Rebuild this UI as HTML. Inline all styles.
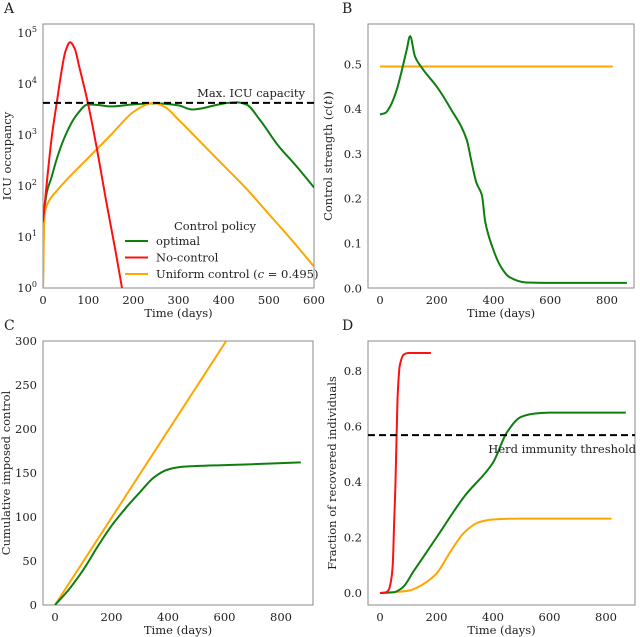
<!DOCTYPE html>
<html><head><meta charset="utf-8"><style>
body{margin:0;background:#fff;}
svg{display:block;font-family:"DejaVu Serif","Liberation Serif",serif;}
</style></head><body>
<svg id="fig" width="640" height="637" viewBox="0 0 640 637" xmlns="http://www.w3.org/2000/svg"></svg>
<script>
// Panel A data (log10 ICU occupancy)
const aRedT=[0,10,20,30,40,50,60,70,80,100,120,140,160,175];
const aRedV=[1.3,2.2,3.0,3.6,4.2,4.65,4.82,4.7,4.35,3.6,2.7,1.7,0.75,0];
const aGreenT=[0,2,20,50,75,100,120,150,200,250,300,330,350,380,410,430,450,480,520,560,600];
const aGreenV=[0,1.4,2.2,3.0,3.4,3.6,3.59,3.56,3.6,3.62,3.58,3.5,3.52,3.58,3.63,3.64,3.6,3.3,2.8,2.4,1.97];
const aOrangeT=[0,3,10,30,50,100,150,200,230,245,270,300,350,400,450,500,550,600];
const aOrangeV=[0,1.4,1.65,1.9,2.1,2.55,3.0,3.45,3.6,3.63,3.55,3.3,2.85,2.4,1.95,1.45,0.95,0.42];
const aCapacity=3.63;
const aXTicks=[0,100,200,300,400,500,600];
const aYTicks=[0,1,2,3,4,5];
// Panel B
const bGreenT=[0,20,35,59,82,95,106,123,150,200,250,306,320,340,359,371,396,426,456,515,600,700,870];
const bGreenV=[0.388,0.392,0.405,0.443,0.5,0.535,0.563,0.518,0.49,0.45,0.40,0.331,0.29,0.235,0.208,0.148,0.092,0.048,0.025,0.013,0.012,0.012,0.012];
const bOrangeT=[0,820];
const bOrangeV=[0.495,0.495];
const bXTicks=[0,200,400,600,800];
const bYTicks=[0,0.1,0.2,0.3,0.4,0.5];
// Panel C
const cOrangeT=[0,606];
const cOrangeV=[0,300];
const cGreenT=[0,50,100,150,200,250,300,350,400,450,500,600,700,870];
const cGreenV=[0,18,40,66,90,110,128,145,154,157,158,159,160,162];
const cXTicks=[0,200,400,600,800];
const cYTicks=[0,50,100,150,200,250,300];
// Panel D
const dRedT=[0,20,30,40,45,50,55,62,70,85,100,180];
const dRedV=[0,0.002,0.01,0.05,0.1,0.25,0.4,0.7,0.82,0.86,0.865,0.865];
const dGreenT=[0,50,80,120,200,300,400,450,500,550,600,870];
const dGreenV=[0,0.003,0.02,0.08,0.2,0.35,0.47,0.58,0.635,0.647,0.65,0.65];
const dOrangeT=[0,100,150,200,250,300,350,400,500,820];
const dOrangeV=[0,0.008,0.03,0.07,0.15,0.22,0.255,0.265,0.268,0.268];
const dHerd=0.569;
const dXTicks=[0,200,400,600,800];
const dYTicks=[0,0.2,0.4,0.6,0.8];

const NS="http://www.w3.org/2000/svg";
const svg=document.getElementById('fig');
function mk(tag,attrs,parent,txt){const e=document.createElementNS(NS,tag);for(const k in attrs)e.setAttribute(k,attrs[k]);if(txt!==undefined)e.textContent=txt;(parent||svg).appendChild(e);return e;}
function lin(d0,d1,r0,r1){return v=>r0+(v-d0)/(d1-d0)*(r1-r0);}
const GREEN='#0e7e0e',RED='#ff1010',ORANGE='#ffa500';

// monotone cubic path through pixel points (x increasing)
function monoPath(xs,ys){
  const n=xs.length;
  if(n<3)return xs.map((x,i)=>(i?'L':'M')+x.toFixed(1)+' '+ys[i].toFixed(1)).join(' ');
  const d=[],m=new Array(n);
  for(let i=0;i<n-1;i++)d.push((ys[i+1]-ys[i])/(xs[i+1]-xs[i]||1e-6));
  m[0]=d[0];m[n-1]=d[n-2];
  for(let i=1;i<n-1;i++){
    if(d[i-1]*d[i]<=0)m[i]=0;
    else{const h0=xs[i]-xs[i-1],h1=xs[i+1]-xs[i];const w1=2*h1+h0,w2=h1+2*h0;m[i]=(w1+w2)/(w1/d[i-1]+w2/d[i]);}
  }
  let p='M'+xs[0].toFixed(1)+' '+ys[0].toFixed(1);
  for(let i=0;i<n-1;i++){
    const h=(xs[i+1]-xs[i])/3;
    p+=` C${(xs[i]+h).toFixed(1)} ${(ys[i]+m[i]*h).toFixed(1)} ${(xs[i+1]-h).toFixed(1)} ${(ys[i+1]-m[i+1]*h).toFixed(1)} ${xs[i+1].toFixed(1)} ${ys[i+1].toFixed(1)}`;
  }
  return p;
}

function panel(o){
  const g=mk('g',{});
  
  
  const fr=mk('rect',{x:o.L,y:o.T,width:o.R-o.L,height:o.B-o.T,fill:'none',stroke:'#888','stroke-width':1},g);
  
  
  o.xt.forEach(v=>{const t=mk('text',{x:o.sx(v),y:o.B+16,'text-anchor':'middle','font-size':11.5,fill:'#222'},g,String(v));
    
    });
  o.yt.forEach(v=>{let t;
    if(o.log){t=mk('text',{x:o.L-6,y:o.sy(v)+4,'text-anchor':'end','font-size':11.5,fill:'#222'},g,'10');
      mk('tspan',{dy:-5,'font-size':8},t,String(v));}
    else t=mk('text',{x:o.L-6,y:o.sy(v)+4,'text-anchor':'end','font-size':11.5,fill:'#222'},g,o.fmt(v));
    
    });
  const xl=mk('text',{x:(o.L+o.R)/2,y:o.B+29,'text-anchor':'middle','font-size':11.5,fill:'#222'},g,'Time (days)');
  
  
  const yx=o.ylx, yy=(o.T+o.B)/2;
  const yl=mk('text',{x:yx,y:yy,'text-anchor':'middle','font-size':11.5,fill:'#222',transform:`rotate(-90 ${yx} ${yy})`},g);
  yl.innerHTML=o.ylabel;
  
  
  const pl=mk('text',{x:o.plx,y:o.ply,'font-size':14,fill:'#222'},g,o.letter);
  
  
  const cp=mk('clipPath',{id:'clip'+o.letter},g);
  mk('rect',{x:o.L,y:o.T,width:o.R-o.L,height:o.B-o.T},cp);
  const sg=mk('g',{'clip-path':`url(#clip${o.letter})`},g);
  o.series.forEach(s=>{
    const d=monoPath(s.t.map(o.sx),s.v.map(o.sy));
    const p=mk('path',{d:d,fill:'none',stroke:s.c,'stroke-width':2,'stroke-linejoin':'round'},sg);
    
    
  });
  return {g,sg};
}

// A
const axA=lin(0,600,43,314), ayA=lin(0,5,288,33);
const pA=panel({name:'panel-a-icu',letter:'A',L:43,R:314,T:24,B:288,sx:axA,sy:ayA,xt:aXTicks,yt:aYTicks,log:true,
 ylabel:'ICU occupancy',ylx:11,plx:4,ply:13,
 series:[{t:aGreenT,v:aGreenV,c:GREEN,n:'optimal-line'},{t:aOrangeT,v:aOrangeV,c:ORANGE,n:'uniform-line'},{t:aRedT,v:aRedV,c:RED,n:'no-control-line'}]});
const capL=mk('line',{x1:43,x2:314,y1:ayA(aCapacity),y2:ayA(aCapacity),stroke:'#000','stroke-width':2,'stroke-dasharray':'7,4'},pA.g);


const capT=mk('text',{x:305,y:ayA(aCapacity)-6,'text-anchor':'end','font-size':11.5,fill:'#222'},pA.g,'Max. ICU capacity');


const lg=mk('g',{},pA.g);


mk('text',{x:215,y:230,'text-anchor':'middle','font-size':11.5,fill:'#222'},lg,'Control policy');
[['optimal',GREEN,'legend-entry-optimal'],['No-control',RED,'legend-entry-no-control'],['Uniform control (<tspan font-style="italic">c</tspan> = 0.495)',ORANGE,'legend-entry-uniform']].forEach((e,i)=>{
  const y=241+i*16.5;
  const eg=mk('g',{},lg);
  
  
  mk('line',{x1:125,x2:148,y1:y,y2:y,stroke:e[1],'stroke-width':2},eg);
  const t=mk('text',{x:156,y:y+4,'font-size':11.5,fill:'#222'},eg);t.innerHTML=e[0];
});
// B
const axB=lin(0,800,380,607), ayB=lin(0,0.5,288.3,64.3);
panel({name:'panel-b-control',letter:'B',L:368,R:634,T:24,B:288,sx:axB,sy:ayB,xt:bXTicks,yt:bYTicks,fmt:v=>v.toFixed(1),
 ylabel:'Control strength (<tspan font-style="italic">c</tspan>(<tspan font-style="italic">t</tspan>))',ylx:332,plx:342,ply:13,
 series:[{t:bOrangeT,v:bOrangeV,c:ORANGE,n:'uniform-line'},{t:bGreenT,v:bGreenV,c:GREEN,n:'optimal-line'}]});
// C
const axC=lin(0,800,55,281), ayC=lin(0,300,605,341);
panel({name:'panel-c-cumulative',letter:'C',L:43,R:313,T:341,B:605,sx:axC,sy:ayC,xt:cXTicks,yt:cYTicks,fmt:v=>String(v),
 ylabel:'Cumulative imposed control',ylx:10,plx:4,ply:330,
 series:[{t:cOrangeT,v:cOrangeV,c:ORANGE,n:'uniform-line'},{t:cGreenT,v:cGreenV,c:GREEN,n:'optimal-line'}]});
// D
const axD=lin(0,800,380,606), ayD=lin(0,0.8,593,371);
const pD=panel({name:'panel-d-recovered',letter:'D',L:368,R:635,T:341,B:605,sx:axD,sy:ayD,xt:dXTicks,yt:dYTicks,fmt:v=>v.toFixed(1),
 ylabel:'Fraction of recovered individuals',ylx:336,plx:342,ply:330,
 series:[{t:dOrangeT,v:dOrangeV,c:ORANGE,n:'uniform-line'},{t:dGreenT,v:dGreenV,c:GREEN,n:'optimal-line'},{t:dRedT,v:dRedV,c:RED,n:'no-control-line'}]});
const hl=mk('line',{x1:368,x2:635,y1:ayD(dHerd),y2:ayD(dHerd),stroke:'#000','stroke-width':2,'stroke-dasharray':'7,4'},pD.g);


const ht=mk('text',{x:636,y:ayD(dHerd)+18,'text-anchor':'end','font-size':11.5,fill:'#222'},pD.g,'Herd immunity threshold');


</script>
</body></html>
